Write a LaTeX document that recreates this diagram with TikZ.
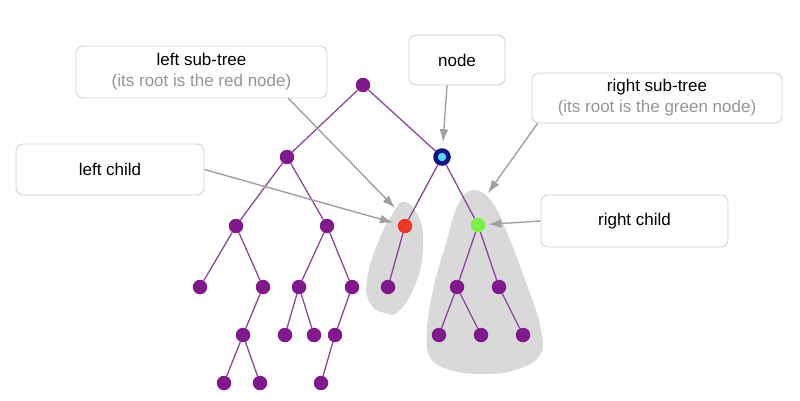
\documentclass[tikz,border=0pt]{standalone}
\usepackage{fontspec}
\setmainfont{Liberation Sans}
\usetikzlibrary{arrows.meta,positioning,backgrounds}

\definecolor{treepurple}{RGB}{128,26,140}
\definecolor{edgepurple}{RGB}{140,70,155}
\definecolor{blobgray}{RGB}{217,217,217}
\definecolor{boxgray}{RGB}{212,212,212}
\definecolor{arrowgray}{RGB}{160,160,160}
\definecolor{notegray}{RGB}{150,150,150}
\definecolor{rootred}{RGB}{236,56,36}
\definecolor{rootgreen}{RGB}{120,240,70}
\definecolor{navy}{RGB}{10,20,130}
\definecolor{cyanish}{RGB}{90,215,255}

\tikzset{
  vert/.style={fill=treepurple,circle,inner sep=0pt,minimum size=14.5pt},
  branch/.style={draw=edgepurple,line width=1.3pt},
  callout/.style={draw=boxgray,fill=white,rounded corners=7pt,line width=0.9pt,
    align=center,inner sep=0pt,font=\fontsize{17}{21}\selectfont},
  pointer/.style={draw=arrowgray,line width=1.4pt,-{Latex[length=13pt,width=9pt]}},
}

\begin{document}
\begin{tikzpicture}[x=1pt,y=-1pt]
      \useasboundingbox (0,0) rectangle (800,400);

      \node[vert] (r) at (363,85){};

      \node[vert] (r0) at (287,157){};
      \node[vert,fill=cyanish,draw=navy,line width=4.5pt,minimum size=13pt] (r1) at (442,157){};

      \node[vert] (r00) at (236,226){};
      \node[vert] (r01) at (327,226){};
      \node[vert,fill=rootred] (r10) at (405,226){};
      \node[vert,fill=rootgreen] (r11) at (478,225){};

      \node[vert] (r000) at (200,287){};
      \node[vert] (r001) at (263,287){};
      \node[vert] (r010) at (299,287){};
      \node[vert] (r011) at (352,287){};
      \node[vert] (r100) at (388,287){};
      \node[vert] (r110) at (457,287){};
      \node[vert] (r111) at (499,287){};

      \node[vert] (r0010) at (243,335){};
      \node[vert] (r0100) at (285,335){};
      \node[vert] (r0101) at (314,335){};
      \node[vert] (r0110) at (335,335){};
      \node[vert] (r1100) at (439,335){};
      \node[vert] (r1101) at (481,335){};
      \node[vert] (r1111) at (523,335){};

      \node[vert] (r00100) at (224,383){};
      \node[vert] (r00101) at (260,383){};
      \node[vert] (r01100) at (321,383){};

      % labels
      \node[callout,minimum width=251pt,minimum height=52pt] (lst) at (201.5,72)
        {left sub-tree\\\textcolor{notegray}{(its root is the red node)}};
      \node[callout,minimum width=96pt,minimum height=50pt] (nd) at (457,60) {node};
      \node[callout,minimum width=250pt,minimum height=50pt] (rst) at (657,98)
        {right sub-tree\\\textcolor{notegray}{(its root is the green node)}};
      \node[callout,minimum width=188pt,minimum height=51pt] (lc) at (110,169.5) {left child};
      \node[callout,minimum width=187pt,minimum height=52pt] (rc) at (634.5,221) {right child};

      \coordinate (lsttip) at (395,208);
      \coordinate (rsttip) at (488,193);

      \begin{scope}[on background layer]
        % sub-tree shading
        \fill[blobgray] plot[smooth cycle,tension=0.8] coordinates
          {(405,202) (419,218) (423,245) (417,280) (400,310) (385,313)
           (370,303) (367,280) (377,245) (393,213)};
        \fill[blobgray] plot[smooth cycle,tension=0.7] coordinates
          {(473,190) (492,202) (508,235) (525,280) (540,325) (540,355)
           (515,370) (483,374) (450,370) (430,357) (427,330) (433,290)
           (447,240) (458,205)};

        \draw[branch](r) -- (r0);
        \draw[branch](r) -- (r1);

        \draw[branch](r0) -- (r00);
        \draw[branch](r0) -- (r01);
        \draw[branch](r1) -- (r10);
        \draw[branch](r1) -- (r11);

        \draw[branch](r00) -- (r000);
        \draw[branch](r00) -- (r001);
        \draw[branch](r01) -- (r010);
        \draw[branch](r01) -- (r011);
        \draw[branch](r10) -- (r100);
        \draw[branch](r11) -- (r110);
        \draw[branch](r11) -- (r111);

        \draw[branch](r001) -- (r0010);
        \draw[branch](r010) -- (r0100);
        \draw[branch](r010) -- (r0101);
        \draw[branch](r011) -- (r0110);
        \draw[branch](r110) -- (r1100);
        \draw[branch](r110) -- (r1101);
        \draw[branch](r111) -- (r1111);

        \draw[branch](r0010) -- (r00100);
        \draw[branch](r0010) -- (r00101);
        \draw[branch](r0110) -- (r01100);
      \end{scope}

      % pointers
      \draw[pointer] ([xshift=-39pt]lst.south east) -- (lsttip);
      \draw[pointer,shorten >=6pt] ([xshift=-10pt]nd.south) -- (r1);
      \draw[pointer] ([xshift=6pt]rst.south west) -- (rsttip);
      \draw[pointer,shorten >=5pt] (lc.east) -- (r10);
      \draw[pointer,shorten >=3pt] (rc.west) -- (r11);
    \end{tikzpicture}
\end{document}
